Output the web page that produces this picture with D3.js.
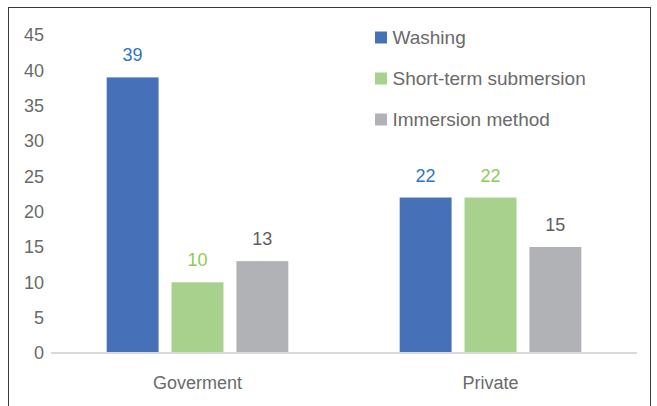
<!DOCTYPE html>
<html>
<head>
<meta charset="utf-8">
<script src="https://cdn.jsdelivr.net/npm/d3@7"></script>
<style>
  html, body { margin: 0; padding: 0; background: #fff; }
  svg { display: block; font-family: "Liberation Sans", Arial, sans-serif; }
</style>
</head>
<body>
<svg id="chart" width="657" height="406"></svg>
<script>
// Sectors on the x axis
const categories = ["Goverment", "Private"];
// Cleaning methods (series)
const seriesNames = ["Washing", "Short-term submersion", "Immersion method"];
// Values per series, in category order
const washing = [39, 22];
const shortTerm = [10, 22];
const immersion = [13, 15];
const yTicks = [0, 5, 10, 15, 20, 25, 30, 35, 40, 45];

const seriesValues = [washing, shortTerm, immersion];
const barColors = ["#4671B8", "#A9D18E", "#B1B2B6"];
const labelColors = ["#2E75C4", "#8DCB55", "#606060"];
const textColor = "#6a6a6a";
const FONT = "Liberation Sans, Arial, sans-serif";
const FS = 18;

const svg = d3.select("#chart");
const plotLeft = 51, plotRight = 637;

// Outer frame
svg.append("rect")
  .attr("x", 8.5).attr("y", 7.5)
  .attr("width", 642).attr("height", 410)
  .attr("fill", "#fff").attr("stroke", "#3a3a3a").attr("stroke-width", 1);

const y = d3.scaleLinear().domain([0, 45]).range([353, 35]);
const x0 = d3.scaleBand().domain(categories).range([plotLeft, plotRight]).paddingInner(0.38).paddingOuter(0.19);
const x1 = d3.scaleBand().domain(seriesNames).range([0, x0.bandwidth()]).paddingInner(0.2);

// Y axis tick labels (no axis line)
const yAxis = d3.axisLeft(y).tickValues(yTicks).tickSize(0).tickPadding(0);
const yg = svg.append("g").attr("transform", `translate(44,0)`).call(yAxis);
yg.select(".domain").remove();
yg.selectAll("text")
  .attr("fill", textColor).attr("font-size", FS).attr("font-family", FONT);

// Bars
const groups = svg.append("g").selectAll("g")
  .data(categories)
  .join("g")
  .attr("transform", d => `translate(${x0(d)},0)`);

const cells = (c, ci) => seriesNames.map((s, si) => ({ s, si, v: seriesValues[si][ci] }));

groups.selectAll("rect")
  .data(cells)
  .join("rect")
  .attr("x", d => x1(d.s))
  .attr("width", x1.bandwidth())
  .attr("y", d => y(d.v))
  .attr("height", d => y(0) - y(d.v))
  .attr("fill", d => barColors[d.si]);

// Value labels
groups.selectAll("text")
  .data(cells)
  .join("text")
  .attr("x", d => x1(d.s) + x1.bandwidth() / 2)
  .attr("y", d => y(d.v) - 16)
  .attr("text-anchor", "middle")
  .attr("font-size", FS)
  .attr("fill", d => labelColors[d.si])
  .text(d => d.v);

// Baseline and category labels
const xAxis = d3.axisBottom(x0).tickSize(0).tickPadding(23.5);
const xg = svg.append("g").attr("transform", `translate(0,${y(0)})`).call(xAxis);
xg.select(".domain").attr("stroke", "#d9d9d9").attr("stroke-width", 2)
  .attr("d", `M${plotLeft},0H${plotRight}`);
xg.selectAll("text")
  .attr("fill", textColor).attr("font-size", FS).attr("font-family", FONT);

// Legend
const legend = svg.append("g").attr("transform", "translate(375,37.5)");
const items = legend.selectAll("g").data(seriesNames).join("g")
  .attr("transform", (d, i) => `translate(0,${i * 41})`);
items.append("rect")
  .attr("x", 0).attr("y", -6).attr("width", 12).attr("height", 12)
  .attr("fill", (d, i) => barColors[i]);
items.append("text")
  .attr("x", 17.5).attr("y", 0).attr("dy", "0.35em")
  .attr("font-size", 19).attr("fill", textColor)
  .text(d => d);
</script>
</body>
</html>
